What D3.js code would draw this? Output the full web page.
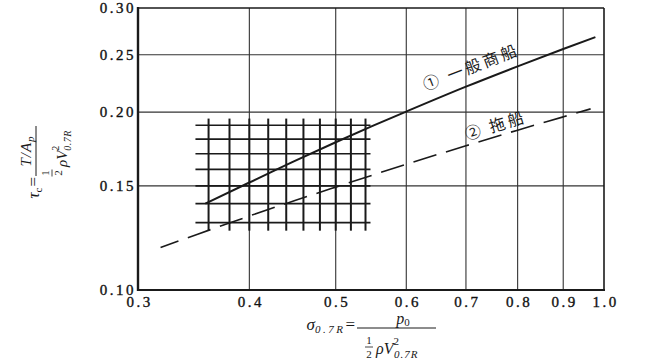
<!DOCTYPE html>
<html>
<head>
<meta charset="utf-8">
<script src="https://cdn.jsdelivr.net/npm/d3@7"></script>
<style>
  html, body { margin: 0; padding: 0; background: #fff; }
  svg { display: block; }
  .tick-label { font-family: "Liberation Serif", serif; font-size: 15px; letter-spacing: 2.5px; fill: #111; stroke: #111; stroke-width: 0.35px; }
  .math { font-family: "Liberation Serif", serif; fill: #1a1a1a; }
  .cjk { font-family: "Noto Sans CJK SC", sans-serif; font-size: 16px; letter-spacing: 3px; fill: #1a1a1a; }
</style>
</head>
<body>
<script>
// Screen dimensions.
const WIDTH = 654;
const HEIGHT = 361;

// Axis ticks and grid.
const xTicks = [0.3, 0.4, 0.5, 0.6, 0.7, 0.8, 0.9, 1.0];
const yTicks = [0.10, 0.15, 0.20, 0.25, 0.30];
const gridX = [0.4, 0.5, 0.6, 0.7, 0.8, 0.9];
const gridY = [0.15, 0.20, 0.25];

// Hatched region.
const patchX = [0.36, 0.38, 0.40, 0.42, 0.44, 0.46, 0.48, 0.50, 0.52, 0.54];
const patchY = [0.13, 0.14, 0.15, 0.16, 0.17, 0.18, 0.19];
const patchXRange = [0.348, 0.547];
const patchYRange = [0.126, 0.195];

// Curve 1: merchant ships (solid).
const merchantX = [0.357, 0.40, 0.45, 0.50, 0.55, 0.60, 0.70, 0.80, 0.90, 0.978];
const merchantY = [0.140, 0.152, 0.1654, 0.1778, 0.1895, 0.2004, 0.2208, 0.239, 0.2557, 0.2678];

// Curve 2: tugs (dashed).
const tugX = [0.318, 0.35, 0.40, 0.45, 0.50, 0.60, 0.70, 0.80, 0.90, 0.966];
const tugY = [0.118, 0.1243, 0.1334, 0.1417, 0.1493, 0.1632, 0.1754, 0.1864, 0.1963, 0.2025];

// Curve labels and where they start.
const labelText = ["① 一般商船", "② 拖船"];
const labelX = [0.627, 0.698];
const labelY = [0.223, 0.184];
const labelAngle = [-21, -17];

const margin = { left: 138, right: 50, top: 8, bottom: 71 };

const svg = d3.select("body").append("svg").attr("width", WIDTH).attr("height", HEIGHT);

const x = d3.scaleLog().domain([0.3, 1.0]).range([margin.left, WIDTH - margin.right]);
const y = d3.scaleLog().domain([0.1, 0.3]).range([HEIGHT - margin.bottom, margin.top]);

const ink = "#1a1a1a";

// Grid lines
svg.append("g").selectAll("line").data(gridX).enter().append("line")
  .attr("x1", d => x(d)).attr("x2", d => x(d))
  .attr("y1", y(0.3)).attr("y2", y(0.1))
  .attr("stroke", "#333").attr("stroke-width", 1.1);

svg.append("g").selectAll("line").data(gridY).enter().append("line")
  .attr("x1", x(0.3)).attr("x2", x(1.0))
  .attr("y1", d => y(d)).attr("y2", d => y(d))
  .attr("stroke", "#333").attr("stroke-width", 1.1);

// Frame: left and bottom heavier
svg.append("line").attr("x1", x(0.3)).attr("x2", x(1.0)).attr("y1", y(0.3)).attr("y2", y(0.3))
  .attr("stroke", ink).attr("stroke-width", 1.4);
svg.append("line").attr("x1", x(1.0)).attr("x2", x(1.0)).attr("y1", y(0.3)).attr("y2", y(0.1))
  .attr("stroke", ink).attr("stroke-width", 1.6);
svg.append("line").attr("x1", x(0.3)).attr("x2", x(0.3)).attr("y1", y(0.3) - 1).attr("y2", y(0.1) + 1)
  .attr("stroke", ink).attr("stroke-width", 2.4);
svg.append("line").attr("x1", x(0.3) - 1).attr("x2", x(1.0) + 1).attr("y1", y(0.1)).attr("y2", y(0.1))
  .attr("stroke", ink).attr("stroke-width", 2.2);

// Hatched patch
svg.append("g").selectAll("line").data(patchY).enter().append("line")
  .attr("x1", x(patchXRange[0])).attr("x2", x(patchXRange[1]))
  .attr("y1", d => y(d)).attr("y2", d => y(d))
  .attr("stroke", ink).attr("stroke-width", 1.6);

svg.append("g").selectAll("line").data(patchX).enter().append("line")
  .attr("x1", d => x(d)).attr("x2", d => x(d))
  .attr("y1", y(patchYRange[1])).attr("y2", y(patchYRange[0]))
  .attr("stroke", ink).attr("stroke-width", 2);

// Curves
const line = d3.line().x(d => x(d[0])).y(d => y(d[1])).curve(d3.curveMonotoneX);

svg.append("path")
  .datum(d3.zip(merchantX, merchantY))
  .attr("d", line)
  .attr("fill", "none").attr("stroke", ink).attr("stroke-width", 2);

svg.append("path")
  .datum(d3.zip(tugX, tugY))
  .attr("d", line)
  .attr("fill", "none").attr("stroke", ink).attr("stroke-width", 1.6)
  .attr("stroke-dasharray", "24,10").attr("stroke-dashoffset", 5);

// Curve labels
labelText.forEach((t, i) => {
  const px = x(labelX[i]), py = y(labelY[i]);
  svg.append("text").attr("class", "cjk")
    .attr("transform", `translate(${px},${py}) rotate(${labelAngle[i]})`)
    .attr("dominant-baseline", "central")
    .text(t);
});

// Tick labels
svg.append("g").selectAll("text").data(yTicks).enter().append("text")
  .attr("class", "tick-label")
  .attr("x", x(0.3) - 2).attr("y", d => y(d))
  .attr("dy", "0.35em").attr("text-anchor", "end")
  .text(d => d3.format(".2f")(d));

svg.append("g").selectAll("text").data(xTicks).enter().append("text")
  .attr("class", "tick-label")
  .attr("x", d => x(d) + 1.5).attr("y", y(0.1) + 17)
  .attr("text-anchor", "middle")
  .text(d => d3.format(".1f")(d));

// Y axis title: tau_c = (T/Ap) / (1/2 rho V^2_0.7R)
const yt = svg.append("g").attr("transform", "translate(36,152) rotate(-90)");
yt.append("text").attr("class", "math").attr("x", -25).attr("y", 3).attr("text-anchor", "end")
  .style("font-size", "17px")
  .call(t => {
    t.append("tspan").style("font-style", "italic").text("τ");
    t.append("tspan").attr("dy", 3).style("font-size", "11px").style("letter-spacing", "1px").text("c");
    t.append("tspan").attr("dy", -3).text("=");
  });
yt.append("line").attr("x1", -24).attr("x2", 26).attr("y1", 0).attr("y2", 0).attr("stroke", ink).attr("stroke-width", 1);
yt.append("text").attr("class", "math").attr("x", 1).attr("y", -5).attr("text-anchor", "middle")
  .style("font-size", "15px").style("font-style", "italic").style("letter-spacing", "1px")
  .call(t => {
    t.append("tspan").text("T/A");
    t.append("tspan").attr("dy", 3).style("font-size", "11px").text("p");
  });
yt.append("text").attr("class", "math").attr("x", -21).attr("y", 13).attr("text-anchor", "middle").style("font-size", "11px").text("1");
yt.append("line").attr("x1", -24.5).attr("x2", -17.5).attr("y1", 16).attr("y2", 16).attr("stroke", ink).attr("stroke-width", 0.8);
yt.append("text").attr("class", "math").attr("x", -21).attr("y", 26).attr("text-anchor", "middle").style("font-size", "11px").text("2");
yt.append("text").attr("class", "math").attr("x", -15).attr("y", 31).style("font-size", "15px")
  .call(t => {
    t.append("tspan").style("font-style", "italic").text("ρV");
    t.append("tspan").attr("dy", -8).style("font-size", "10px").text("2");
    t.append("tspan").attr("dx", -5).attr("dy", 12).style("font-size", "10px").style("font-style", "italic").style("letter-spacing", "0.5px").text("0.7R");
  });

// X axis title: sigma_0.7R = p0 / (1/2 rho V^2_0.7R)
const xt = svg.append("g").attr("transform", "translate(357,328)");
xt.append("text").attr("class", "math").attr("x", -2).attr("y", 2).attr("text-anchor", "end")
  .style("font-size", "17px")
  .call(t => {
    t.append("tspan").style("font-style", "italic").text("σ");
    t.append("tspan").attr("dy", 3).style("font-size", "11px").style("font-style", "italic").style("letter-spacing", "2.5px").text("0.7R");
    t.append("tspan").attr("dy", -3).text("=");
  });
xt.append("line").attr("x1", 0).attr("x2", 79).attr("y1", 0).attr("y2", 0).attr("stroke", ink).attr("stroke-width", 1);
xt.append("text").attr("class", "math").attr("x", 46).attr("y", -4).attr("text-anchor", "middle")
  .style("font-size", "16px").style("font-style", "italic")
  .call(t => {
    t.append("tspan").text("p");
    t.append("tspan").attr("dy", 2).style("font-size", "11px").style("font-style", "normal").text("0");
  });
xt.append("text").attr("class", "math").attr("x", 12).attr("y", 16).attr("text-anchor", "middle").style("font-size", "11px").text("1");
xt.append("line").attr("x1", 8).attr("x2", 16).attr("y1", 19).attr("y2", 19).attr("stroke", ink).attr("stroke-width", 0.8);
xt.append("text").attr("class", "math").attr("x", 12).attr("y", 30).attr("text-anchor", "middle").style("font-size", "11px").text("2");
xt.append("text").attr("class", "math").attr("x", 19).attr("y", 26).style("font-size", "16px")
  .call(t => {
    t.append("tspan").style("font-style", "italic").text("ρV");
    t.append("tspan").attr("dy", -9).style("font-size", "11px").text("2");
    t.append("tspan").attr("dx", -5).attr("dy", 13).style("font-size", "11px").style("font-style", "italic").style("letter-spacing", "1px").text("0.7R");
  });
</script>
</body>
</html>
